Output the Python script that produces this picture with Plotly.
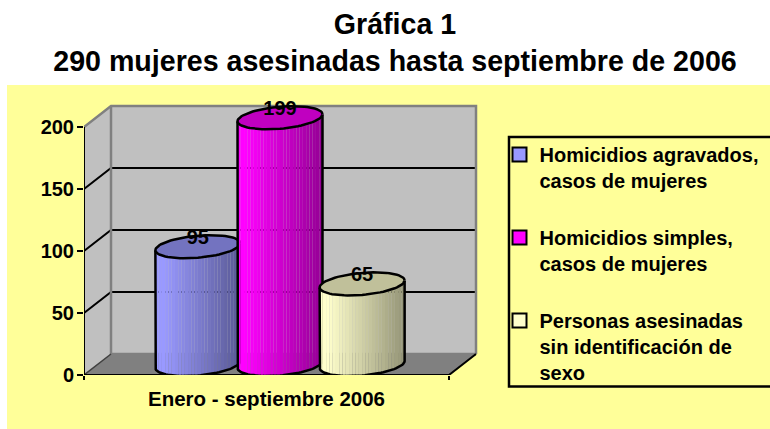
import math
import plotly.graph_objects as go

# ---- data ----
title_lines = ["Gráfica 1", "290 mujeres asesinadas hasta septiembre de 2006"]
category = "Enero - septiembre 2006"
series_names = [
    "Homicidios agravados,<br>casos de mujeres",
    "Homicidios simples,<br>casos de mujeres",
    "Personas asesinadas<br>sin identificación de<br>sexo",
]
series_values = [95, 199, 65]
series_colors = [(153, 153, 255), (255, 0, 255), (255, 255, 204)]
y_ticks = [0, 50, 100, 150, 200]

# ---- style / geometry ----
W, H = 770, 429
FONT = "Liberation Sans, Arial, sans-serif"
PX_X, PX_Y = 365.0, 1.24          # pixels per x unit / per y unit
L, B = 84, 375                    # pixel of x=0, y=0
PLOT_R, PLOT_T = 480, 100
DX, DY = 27 / PX_X, 21 / PX_Y     # depth offset of back wall
SLOT = [0.275, 0.5, 0.725]
A = 42.5 / PX_X
SHEAR = 3.5 / PX_Y
BB = 11 / PX_Y
N_STRIPS = 26

fig = go.Figure()


def poly(xs, ys, fill=None, line=None, width=0):
    fig.add_trace(go.Scatter(
        x=xs, y=ys, mode="lines", showlegend=False, hoverinfo="skip", cliponaxis=False,
        fill="toself" if fill else None, fillcolor=fill,
        line=dict(color=line or "rgba(0,0,0,0)", width=width),
    ))


top = max(y_ticks)
# walls and floor
poly([DX, 1 + DX, 1 + DX, DX, DX], [DY, DY, top + DY, top + DY, DY], fill="#C0C0C0")
poly([0, DX, DX, 0, 0], [0, DY, top + DY, top, 0], fill="#C0C0C0")
poly([0, 1, 1 + DX, DX, 0], [0, 0, DY, DY, 0], fill="#808080")
# gridlines
for v in y_ticks[1:-1]:
    poly([0, DX, 1 + DX], [v, v + DY, v + DY], line="#000000", width=2)
# wall edges
poly([0, DX, 1 + DX, 1 + DX], [top, top + DY, top + DY, DY], line="#808080", width=2.5)
poly([DX, DX, 1 + DX], [top + DY, DY, DY], line="#808080", width=2.5)
poly([0, DX], [0, DY], line="#404040", width=1.5)
# front edges
poly([0, 0], [0, top], line="#000000", width=2)
poly([0, 1, 1 + DX], [0, 0, DY], line="#000000", width=2)


def shade(c, f):
    return "rgb(%d,%d,%d)" % tuple(round(v * f) for v in c)


def brightness(u):
    p = (u + 1) / 2
    return 1.0 if p < 0.1 else 1.0 - 0.42 * (p - 0.1) / 0.9


# cylinders
for slot, val, col in zip(SLOT, series_values, series_colors):
    cx = slot + DX / 2
    y0 = DY / 2
    yt = y0 + val

    def edge(u, yc, sign):
        return yc + SHEAR * u + sign * BB * math.sqrt(max(0, 1 - u * u))

    for i in range(N_STRIPS):
        u1 = -1 + 2 * i / N_STRIPS
        u2 = -1 + 2 * (i + 1) / N_STRIPS
        us = [u1 + (u2 - u1) * k / 4 for k in range(5)]
        xs = [cx + A * u for u in us] + [cx + A * u2, cx + A * u1]
        ys = [edge(u, y0, -1) for u in us] + [yt + SHEAR * u2, yt + SHEAR * u1]
        poly(xs + xs[:1], ys + ys[:1], fill=shade(col, brightness((u1 + u2) / 2)))
    # outline of the body
    ang = [math.pi + math.pi * k / 48 for k in range(49)]
    xs = [cx - A] + [cx + A * math.cos(t) for t in ang] + [cx + A]
    ys = [yt - SHEAR] + [y0 + SHEAR * math.cos(t) + BB * math.sin(t) for t in ang] + [yt + SHEAR]
    poly(xs, ys, line="#000000", width=2.5)
    # top ellipse
    ang = [2 * math.pi * k / 72 for k in range(73)]
    poly([cx + A * math.cos(t) for t in ang],
         [yt + SHEAR * math.cos(t) + BB * math.sin(t) for t in ang],
         fill=shade(col, 0.753), line="#000000", width=2.5)

# value labels
fig.add_trace(go.Scatter(
    x=[s + DX / 2 for s in SLOT],
    y=[DY / 2 + v + 6.5 for v in series_values],
    text=[str(v) for v in series_values],
    mode="text", textposition="middle center", cliponaxis=False,
    textfont=dict(family=FONT, size=20, color="#000000", weight="bold"),
    showlegend=False, hoverinfo="skip",
))

# legend entries
for name, col in zip(series_names, series_colors):
    fig.add_trace(go.Scatter(
        x=[None], y=[None], name=name, mode="markers", legendgroup=name,
        marker=dict(symbol="square", size=14, color=shade(col, 1), line=dict(color="#000000", width=2)),
    ))

x_range = [0, (PLOT_R - L) / PX_X]
y_range = [0, (B - PLOT_T) / PX_Y]
plot_w = PLOT_R - L
plot_h = B - PLOT_T


def paper_x(px):
    return (px - L) / plot_w


def paper_y(py):
    return (B - py) / plot_h


fig.update_layout(
    width=W, height=H,
    margin=dict(l=L, r=W - PLOT_R, t=PLOT_T, b=H - B, autoexpand=False),
    paper_bgcolor="#FFFFFF", plot_bgcolor="rgba(0,0,0,0)",
    font=dict(family=FONT, color="#000000"),
    title=dict(
        text="<br>".join(title_lines), x=395 / W, xanchor="center", xref="container",
        y=1 - 34 / H, yanchor="top", yref="container",
        font=dict(family=FONT, size=28.6, color="#000000", weight="bold"),
    ),
    xaxis=dict(
        range=x_range, showgrid=False, zeroline=False, showline=False,
        tickmode="array", tickvals=[0.5], ticktext=[category], ticks="",
        ticklabelstandoff=9,
        tickfont=dict(family=FONT, size=20.5, color="#000000", weight="bold"),
        minor=dict(tickmode="array", tickvals=[0, 1], ticks="outside", ticklen=4, tickwidth=2, tickcolor="#000000", showgrid=False),
    ),
    yaxis=dict(
        range=y_range, showgrid=False, zeroline=False, showline=False,
        tickmode="array", tickvals=y_ticks, ticks="outside", ticklen=6, tickwidth=2, tickcolor="#000000",
        ticklabelstandoff=-1,
        tickfont=dict(family=FONT, size=20, color="#000000", weight="bold"),
    ),
    legend=dict(
        x=paper_x(499.5), y=paper_y(135), xanchor="left", yanchor="top",
        bgcolor="rgba(0,0,0,0)", borderwidth=0, maxheight=600,
        valign="top", tracegroupgap=28, traceorder="grouped",
        entrywidth=240, entrywidthmode="pixels", itemclick=False, itemdoubleclick=False,
        font=dict(family=FONT, size=20, color="#000000", weight="bold"),
    ),
    shapes=[
        dict(type="rect", xref="paper", yref="paper", layer="below",
             x0=paper_x(7), x1=paper_x(W + 2), y0=paper_y(85), y1=paper_y(H + 2),
             fillcolor="#FFFF99", line=dict(width=0)),
        dict(type="rect", xref="paper", yref="paper", layer="below",
             x0=paper_x(509), x1=paper_x(W + 10), y0=paper_y(137), y1=paper_y(386.5),
             fillcolor="rgba(0,0,0,0)", line=dict(color="#000000", width=2.5)),
    ],
)

fig.write_html("out.html", config={"displayModeBar": False},
               post_script="document.body.style.margin='0';")
